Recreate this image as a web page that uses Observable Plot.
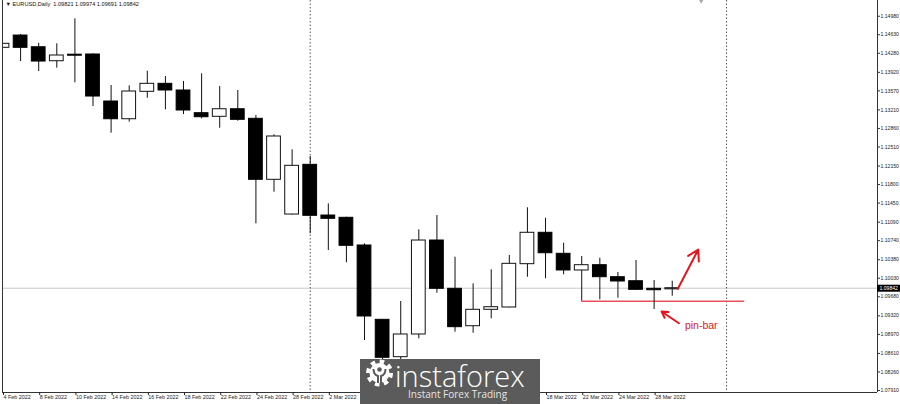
<!DOCTYPE html>
<html><head><meta charset="utf-8">
<script src="https://cdn.jsdelivr.net/npm/d3@7"></script>
<script src="https://cdn.jsdelivr.net/npm/@observablehq/plot@0.6"></script>
<style>
html,body{margin:0;padding:0;background:#fff;}
#wrap{position:relative;width:900px;height:404px;overflow:hidden;}
#wm{position:absolute;left:360px;top:349px;overflow:visible;}
</style></head>
<body>
<div id="wrap"><div id="chart"></div>
<svg id="wm" width="180" height="55" viewBox="0 0 180 55">
  <rect y="10" width="180" height="45" fill="#5b5b5b"/>
  <g transform="translate(19.5,24)">
    <circle r="11.5" fill="none" stroke="#fff" stroke-width="4" stroke-dasharray="4.5 4.5"/>
    <circle r="10" fill="#fff"/>
    <circle cx="0" cy="-3.5" r="2.3" fill="#5b5b5b"/>
    <path d="M-6,-4 Q-6,2 -1.5,3 L-1.5,10 M6,-4 Q6,2 1.5,3 L1.5,10" stroke="#5b5b5b" stroke-width="2" fill="none"/>
  </g>
  <text x="35" y="38" font-family="Open Sans" font-size="29" font-weight="300" fill="#fff">instaforex</text>
  <text x="48" y="49" font-family="Open Sans" font-size="10" fill="#e6e6e6">Instant Forex Trading</text>
</svg>
</div>
<script>
// ---- data (EURUSD daily) ----
const dates = ["4 Feb","7 Feb","8 Feb","9 Feb","10 Feb","11 Feb","14 Feb","15 Feb","16 Feb","17 Feb","18 Feb","21 Feb","22 Feb","23 Feb","24 Feb","25 Feb","28 Feb","1 Mar","2 Mar","3 Mar","4 Mar","7 Mar","8 Mar","9 Mar","10 Mar","11 Mar","14 Mar","15 Mar","16 Mar","17 Mar","18 Mar","21 Mar","22 Mar","23 Mar","24 Mar","25 Mar","28 Mar","29 Mar"];
const open  = [1.14383,1.14615,1.14394,1.14130,1.14253,1.14257,1.13369,1.13034,1.13552,1.13703,1.13577,1.13148,1.13080,1.13223,1.13042,1.11890,1.11234,1.12173,1.11215,1.11172,1.10649,1.09245,1.08539,1.08968,1.10743,1.09831,1.09124,1.09434,1.09478,1.10296,1.10889,1.10492,1.10177,1.10277,1.10050,1.09974,1.09831,1.09821];
const high  = [1.14823,1.14634,1.14470,1.14459,1.14931,1.14270,1.13671,1.13665,1.13941,1.13841,1.13747,1.13892,1.13652,1.13577,1.13104,1.12740,1.12456,1.12330,1.11436,1.11183,1.10681,1.09251,1.09591,1.10945,1.11215,1.10428,1.09925,1.10190,1.10460,1.11361,1.11164,1.10692,1.10441,1.10409,1.10139,1.10365,1.09988,1.09974];
const low   = [1.14105,1.14124,1.13935,1.13998,1.13722,1.13274,1.12770,1.12978,1.13431,1.13212,1.13123,1.13042,1.12864,1.12997,1.11059,1.11656,1.11225,1.10870,1.10554,1.10322,1.08854,1.08300,1.08450,1.08886,1.09748,1.09011,1.08992,1.09264,1.09470,1.10050,1.10020,1.10095,1.09597,1.09623,1.09653,1.09808,1.09440,1.09691];
const close = [1.14459,1.14383,1.14124,1.14238,1.14234,1.13463,1.13034,1.13558,1.13703,1.13577,1.13199,1.13072,1.13223,1.13023,1.11890,1.12708,1.12154,1.11210,1.11153,1.10643,1.09308,1.08528,1.08968,1.10743,1.09831,1.09106,1.09434,1.09483,1.10303,1.10889,1.10503,1.10177,1.10277,1.10050,1.09969,1.09812,1.09804,1.09842];

// visible date labels (the ones under the watermark are not shown)
const xTickIndex  = [0,2,4,6,8,10,12,14,16,18,30,32,34,36];
const xTickLabels = ["4 Feb 2022","8 Feb 2022","10 Feb 2022","14 Feb 2022","16 Feb 2022","18 Feb 2022","22 Feb 2022","24 Feb 2022","28 Feb 2022","2 Mar 2022","18 Mar 2022","22 Mar 2022","24 Mar 2022","28 Mar 2022"];
const yTicks = [1.14980,1.14630,1.14280,1.13920,1.13570,1.13210,1.12860,1.12510,1.12150,1.11800,1.11450,1.11090,1.10740,1.10380,1.10030,1.09680,1.09320,1.08970,1.08610,1.08260,1.07910];

const xDomain = [0, 48.34];
const yDomain = [1.07872, 1.15277];
const monthStarts = [17, 40];
const shiftMarker = [38.6];
const supportLine = [{y: 1.09597, x1: 32, x2: 41.0}];
const arrows = [
  {x1: 37.31, y1: 1.09831, x2: 38.44, y2: 1.10573},
  {x1: 37.37, y1: 1.09181, x2: 36.41, y2: 1.09402}
];
const pinLabel = [{x: 37.7, y: 1.09137, text: "pin-bar"}];
const symbolTitle = "EURUSD,Daily";

// ---- build ----
const candles = dates.map((d, i) => ({i, o: open[i], h: high[i], l: low[i], c: close[i]}));
const last = candles[candles.length - 1];
const f5 = d3.format(".5f");
const titleText = "\u25BC " + symbolTitle + "  " + [last.o, last.h, last.l, last.c].map(f5).join(" ");
const tickLabelOf = new Map(xTickIndex.map((d, k) => [d, xTickLabels[k]]));
const font = "Liberation Sans, Arial, sans-serif";

const chart = Plot.plot({
  width: 900,
  height: 404,
  marginLeft: 2,
  marginRight: 23,
  marginTop: 0,
  marginBottom: 12,
  style: {fontFamily: font, color: "#222", background: "#fff"},
  x: {type: "linear", domain: xDomain},
  y: {domain: yDomain},
  marks: [
    Plot.ruleY([last.c], {stroke: "#c8c8c8", strokeWidth: 1}),
    Plot.ruleX(monthStarts, {stroke: "#555", strokeDasharray: "1.5,2", strokeWidth: 1}),
    Plot.ruleY(supportLine, {y: "y", x1: "x1", x2: "x2", stroke: "#e8505a", strokeWidth: 1.6}),
    Plot.ruleX(candles, {x: "i", y1: "l", y2: "h", stroke: "#111", strokeWidth: 1, clip: true}),
    Plot.rect(candles.filter(d => d.c >= d.o), {x1: d => d.i - 0.38, x2: d => d.i + 0.38, y1: "o", y2: "c", fill: "#fff", stroke: "#111", strokeWidth: 1, clip: true}),
    Plot.rect(candles.filter(d => d.c < d.o), {x1: d => d.i - 0.38, x2: d => d.i + 0.38, y1: "o", y2: "c", fill: "#000", stroke: "#000", strokeWidth: 1, clip: true}),
    Plot.arrow(arrows, {x1: "x1", y1: "y1", x2: "x2", y2: "y2", stroke: "#e8141c", strokeWidth: 2, headLength: 9}),
    Plot.text(pinLabel, {x: "x", y: "y", text: "text", fill: "#d8202a", fontSize: 10.5, textAnchor: "start", fontFamily: font}),
    // frame lines
    Plot.ruleX([xDomain[0]], {stroke: "#333"}),
    Plot.ruleX([xDomain[1]], {stroke: "#333"}),
    Plot.ruleY([yDomain[0]], {stroke: "#333"}),
    // axes
    Plot.axisY(yTicks, {anchor: "right", tickSize: 2, tickPadding: 1, tickFormat: f5, label: null, fontSize: 5.1, stroke: "#333"}),
    Plot.axisX(xTickIndex, {anchor: "bottom", tickSize: 3, tickPadding: 0, tickFormat: d => tickLabelOf.get(d), textAnchor: "start", dx: 1, label: null, fontSize: 5.4}),
    // price tag
    Plot.ruleY([{y: last.c, x1: xDomain[1], x2: xDomain[1] + 1.5}], {y: "y", x1: "x1", x2: "x2", stroke: "#000", strokeWidth: 7}),
    Plot.text([last.c], {x: xDomain[1], y: d => d, text: d => f5(d), fill: "#fff", textAnchor: "start", dx: 2, fontSize: 5.1}),
    // title and shift marker
    Plot.text([titleText], {frameAnchor: "top-left", text: d => d, dx: 3, dy: 2, lineAnchor: "top", textAnchor: "start", fontSize: 5.6, fill: "#111"}),
    Plot.dot(shiftMarker, {x: d => d, y: () => yDomain[1], symbol: "triangle", rotate: 180, r: 1.6, dy: 0.8, fill: "#aaa", stroke: "none"})
  ]
});
document.getElementById("chart").appendChild(chart);
</script>
</body></html>
